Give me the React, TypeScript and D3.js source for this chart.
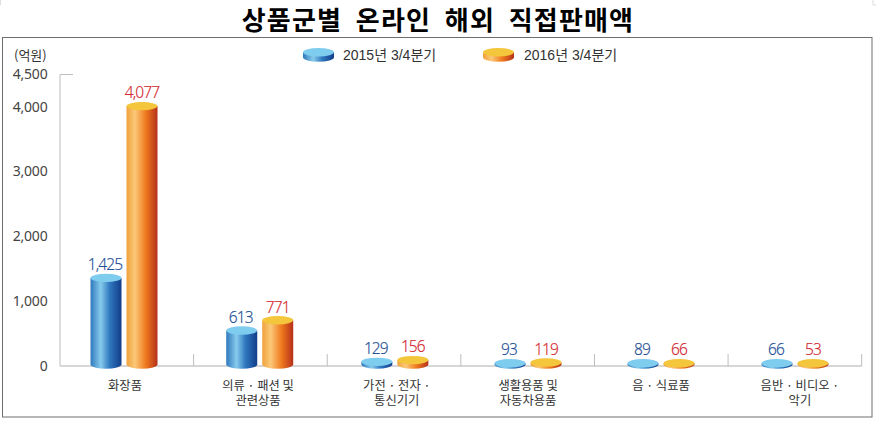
import React from "react";
import * as d3 from "d3";

const categories: string[][] = [
  ["화장품"],
  ["의류 · 패션 및", "관련상품"],
  ["가전 · 전자 ·", "통신기기"],
  ["생활용품 및", "자동차용품"],
  ["음 · 식료품"],
  ["음반 · 비디오 ·", "악기"],
];
const series2015 = [1425, 613, 129, 93, 89, 66];
const series2016 = [4077, 771, 156, 119, 66, 53];
const seriesNames = ["2015년 3/4분기", "2016년 3/4분기"];
const yTicks = [0, 1000, 2000, 3000, 4000, 4500];

const W = 876;
const H = 421;
const sans = "'Noto Sans CJK KR', 'Noto Sans', sans-serif";
const clusterNudge = [-2.8, -0.7, 0.8, 0.4, -0.3, 0.1];
const labelNudge = [-1.8, -2.4, 2.7, 0.4, -0.3, 5];
const BAR_W = 31;
const GAP = 5;
const RY = 4.2;
const BASE_CY = 364.6;

const y = d3.scaleLinear().domain([0, 4500]).range([366, 74.5]);
const x = d3.scaleBand<number>().domain(d3.range(categories.length)).range([60, 861.7]);

function Cylinder({ cx, top, kind, base = BASE_CY, w = BAR_W, ry = RY }: { cx: number; top: number; kind: "b" | "o"; base?: number; w?: number; ry?: number }) {
  const rx = w / 2;
  const cyTop = Math.min(top + ry, base - 1.3);
  const path = `M${cx - rx},${cyTop} L${cx - rx},${base} A${rx},${ry} 0 0 0 ${cx + rx},${base} L${cx + rx},${cyTop} Z`;
  return (
    <g>
      <path d={path} fill={`url(#side-${kind})`} />
      <ellipse cx={cx} cy={cyTop} rx={rx} ry={ry} fill={kind === "b" ? "#7fcdee" : "#f3c63c"} />
    </g>
  );
}

export default function App() {
  return (
    <svg width={W} height={H} viewBox={`0 0 ${W} ${H}`} style={{ position: "absolute", left: 0, top: 0, background: "#fff" }} fontFamily={sans}>
      <defs>
        <linearGradient id="side-b" x1="0" x2="1" y1="0" y2="0">
          <stop offset="0" stopColor="#2f78bd" />
          <stop offset="0.33" stopColor="#86cbec" />
          <stop offset="0.62" stopColor="#2f78bf" />
          <stop offset="1" stopColor="#123c88" />
        </linearGradient>
        <linearGradient id="side-o" x1="0" x2="1" y1="0" y2="0">
          <stop offset="0" stopColor="#f0a23a" />
          <stop offset="0.27" stopColor="#fbc878" />
          <stop offset="0.62" stopColor="#ef7a1e" />
          <stop offset="1" stopColor="#b5301a" />
        </linearGradient>
      </defs>

      <path d="M0.5,0 V5 M873,5 H876 M873,0 V5" stroke="#ddd" fill="none" />
      <rect x={2.5} y={37.5} width={869.5} height={379.5} fill="none" stroke="#6e6e6e" strokeWidth={1} />

      <text x={438} y={30} textAnchor="middle" fontSize={26} fontWeight={700} fill="#000" letterSpacing={1.2} wordSpacing={6.5}>상품군별 온라인 해외 직접판매액</text>

      <text x={14} y={59.5} fontSize={13} fill="#333">(억원)</text>
      {yTicks.map((t) => (
        <text key={t} x={47.5} y={y(t) + 4.8} textAnchor="end" fontSize={14} fontFamily="'Noto Sans', sans-serif" letterSpacing={-0.2} fill="#444">{d3.format(",")(t)}</text>
      ))}

      {seriesNames.map((name, i) => {
        const sx = [318.5, 498.5][i];
        const tx = [343, 524][i];
        return (
          <g key={name}>
            <Cylinder cx={sx} top={48} base={57.5} kind={i === 0 ? "b" : "o"} w={31} ry={4.2} />
            <text x={tx} y={60} fontSize={14} fontFamily="'Liberation Sans', 'Noto Sans CJK KR', sans-serif" fill="#333">{name}</text>
          </g>
        );
      })}

      <path d={`M73,${y(4500)} H60 V${y(0)}`} fill="none" stroke="#bdbdbd" strokeWidth={1} />
      <line x1={60} x2={861.7} y1={y(0)} y2={y(0)} stroke="#c8c8c8" strokeWidth={1.5} />
      {d3.range(1, categories.length + 1).map((i) => {
        const sx = 60 + x.step() * i;
        return <line key={i} x1={sx} x2={sx} y1={354} y2={y(0)} stroke="#bdbdbd" />;
      })}

      {categories.map((lines, i) => {
        const c = (x(i) as number) + x.bandwidth() / 2 + clusterNudge[i];
        const bx = c - GAP / 2 - BAR_W / 2;
        const ox = c + GAP / 2 + BAR_W / 2;
        const lab = (v: number) => Math.min(y(v) - 3.5, 355);
        return (
          <g key={i}>
            <Cylinder cx={bx} top={y(series2015[i])} kind="b" />
            <Cylinder cx={ox} top={y(series2016[i])} kind="o" />
            <text x={bx - 1} y={lab(series2015[i])} textAnchor="middle" fontSize={15.5} fontWeight={300} fontFamily="'Noto Sans', sans-serif" letterSpacing={-0.9} fill="#1f4f96" stroke="#1f4f96" strokeWidth={0.15}>{d3.format(",")(series2015[i])}</text>
            <text x={ox} y={lab(series2016[i])} textAnchor="middle" fontSize={15.5} fontWeight={300} fontFamily="'Noto Sans', sans-serif" letterSpacing={-0.9} fill="#d42a32" stroke="#d42a32" strokeWidth={0.15}>{d3.format(",")(series2016[i])}</text>
            {lines.map((l, j) => (
              <text key={j} x={(x(i) as number) + x.bandwidth() / 2 + labelNudge[i]} y={390 + j * 15} textAnchor="middle" fontSize={12.3} fill="#333">{l}</text>
            ))}
          </g>
        );
      })}
    </svg>
  );
}
